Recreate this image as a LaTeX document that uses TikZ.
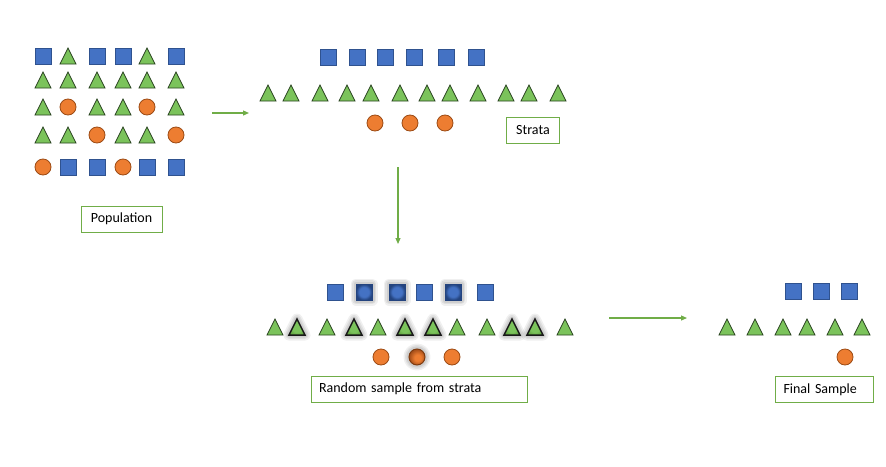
\documentclass[tikz,border=0pt]{standalone}
\usepackage{fontspec}
\setmainfont{Carlito}
\usetikzlibrary{arrows.meta}
\definecolor{sqblue}{HTML}{4472C4}
\definecolor{sqline}{HTML}{2F528F}
\definecolor{sqdark}{HTML}{24447F}
\definecolor{trigreen}{HTML}{7BC35B}
\definecolor{triline}{HTML}{2A4420}
\definecolor{tridark}{HTML}{66A845}
\definecolor{cirorange}{HTML}{ED7D31}
\definecolor{cirline}{HTML}{9C4A14}
\definecolor{cirdark}{HTML}{A8501A}
\definecolor{boxgreen}{HTML}{70AD47}
\pgfdeclareradialshading{glowsq}{\pgfpoint{0bp}{0bp}}{color(0bp)=(sqblue); color(15bp)=(sqblue); color(25bp)=(sqdark); color(50bp)=(sqdark)}
\pgfdeclareradialshading{glowtri}{\pgfpoint{0bp}{0bp}}{color(0bp)=(trigreen); color(16bp)=(trigreen); color(25bp)=(tridark); color(50bp)=(tridark)}
\pgfdeclareradialshading{glowcir}{\pgfpoint{3bp}{-3bp}}{color(0bp)=(cirorange); color(10bp)=(cirorange); color(25bp)=(cirdark); color(50bp)=(cirdark)}
\tikzset{
  sqst/.style={fill=sqblue, draw=sqline, line width=0.8pt},
  trist/.style={fill=trigreen, draw=triline, line width=0.8pt, line join=miter},
  cirst/.style={fill=cirorange, draw=cirline, line width=0.8pt},
  halo/.style={draw=black!55, line join=round},
  sq/.pic={\path[sqst] (-8,-8) rectangle (8,8);},
  tri/.pic={\path[trist] (-8,8) -- (8,8) -- (0,-8) -- cycle;},
  cir/.pic={\path[cirst] (0,0) circle[radius=8pt];},
  gsq/.pic={
    \foreach \w/\o in {11/0.10,8/0.12,5/0.15}{\draw[halo, line width=\w pt, opacity=\o] (-8,-8) rectangle (8,8);}
    \path[shading=glowsq, draw=sqdark, line width=1pt] (-8,-8) rectangle (8,8);},
  gtri/.pic={
    \foreach \w/\o in {11/0.10,8/0.12,5/0.15}{\draw[halo, line width=\w pt, opacity=\o] (-8,8) -- (8,8) -- (0,-8) -- cycle;}
    \path[shading=glowtri, draw=black!90, line width=1.5pt, line join=miter] (-8,8) -- (8,8) -- (0,-8) -- cycle;},
  gcir/.pic={
    \foreach \w/\o in {11/0.10,8/0.12,5/0.15}{\draw[halo, line width=\w pt, opacity=\o] (0,0) circle[radius=8pt];}
    \path[shading=glowcir, draw=cirline!80!black, line width=1pt] (0,0) circle[radius=8pt];},
  label/.style={draw=boxgreen, line width=0.7pt, fill=white, minimum height=26pt,
    font=\fontsize{14}{16}\selectfont, inner xsep=8pt},
  arr/.style={draw=boxgreen, line width=1.2pt, -{Triangle[length=6pt,width=5pt]}}
}
\begin{document}
\begin{tikzpicture}[x=1pt,y=-1pt]
\useasboundingbox[fill=white] (0,0) rectangle (886,466);
% Population
\foreach \x/\y in {43/56,97/56,123/56,176/56,68/167,97/167,147/167,176/167} \pic at (\x,\y) {sq};
\foreach \x/\y in {68/56,147/56,43/80,68/80,97/80,123/80,147/80,176/80,43/107,97/107,123/107,176/107,43/135,68/135,123/135,147/135} \pic at (\x,\y) {tri};
\foreach \x/\y in {68/107,147/107,97/135,176/135,43/167,123/167} \pic at (\x,\y) {cir};
\node[label, minimum width=81pt] (pop) at (121.5,219) {Population};
% Strata
\foreach \x in {328,357,385,414,446,476} \pic at (\x,57) {sq};
\foreach \x in {268,291,320,347,371,400,427,450,478,506,529,558} \pic at (\x,93) {tri};
\foreach \x in {375,410,445} \pic at (\x,123) {cir};
\node[label, minimum width=53pt] (strata) at (533,130) {Strata};
% Random sample
\foreach \x in {335,424,485} \pic at (\x,292) {sq};
\foreach \x in {364,397,453} \pic at (\x,292) {gsq};
\foreach \x in {275,327,378,457,487,565} \pic at (\x,327) {tri};
\foreach \x in {297,354,405,433,512,535} \pic at (\x,327) {gtri};
\foreach \x in {381,452} \pic at (\x,357) {cir};
\pic at (417,357) {gcir};
\node[label, text width=200pt, align=left] (rand) at (419,389) {Random sample from strata};
% Final sample
\foreach \x in {793,821,849} \pic at (\x,291) {sq};
\foreach \x in {727,755,783,807,835,862} \pic at (\x,327) {tri};
\pic at (845,357) {cir};
\node[label, text width=82pt, align=left] (final) at (824.5,389.5) {Final Sample};
% Arrows
\coordinate (a1s) at (212,113); \coordinate (a1e) at (249,113);
\coordinate (a2s) at (398,167); \coordinate (a2e) at (398,244);
\coordinate (a3s) at (609,318); \coordinate (a3e) at (687,318);
\draw[arr] (a1s) -- (a1e);
\draw[arr] (a2s) -- (a2e);
\draw[arr] (a3s) -- (a3e);
\end{tikzpicture}
\end{document}
